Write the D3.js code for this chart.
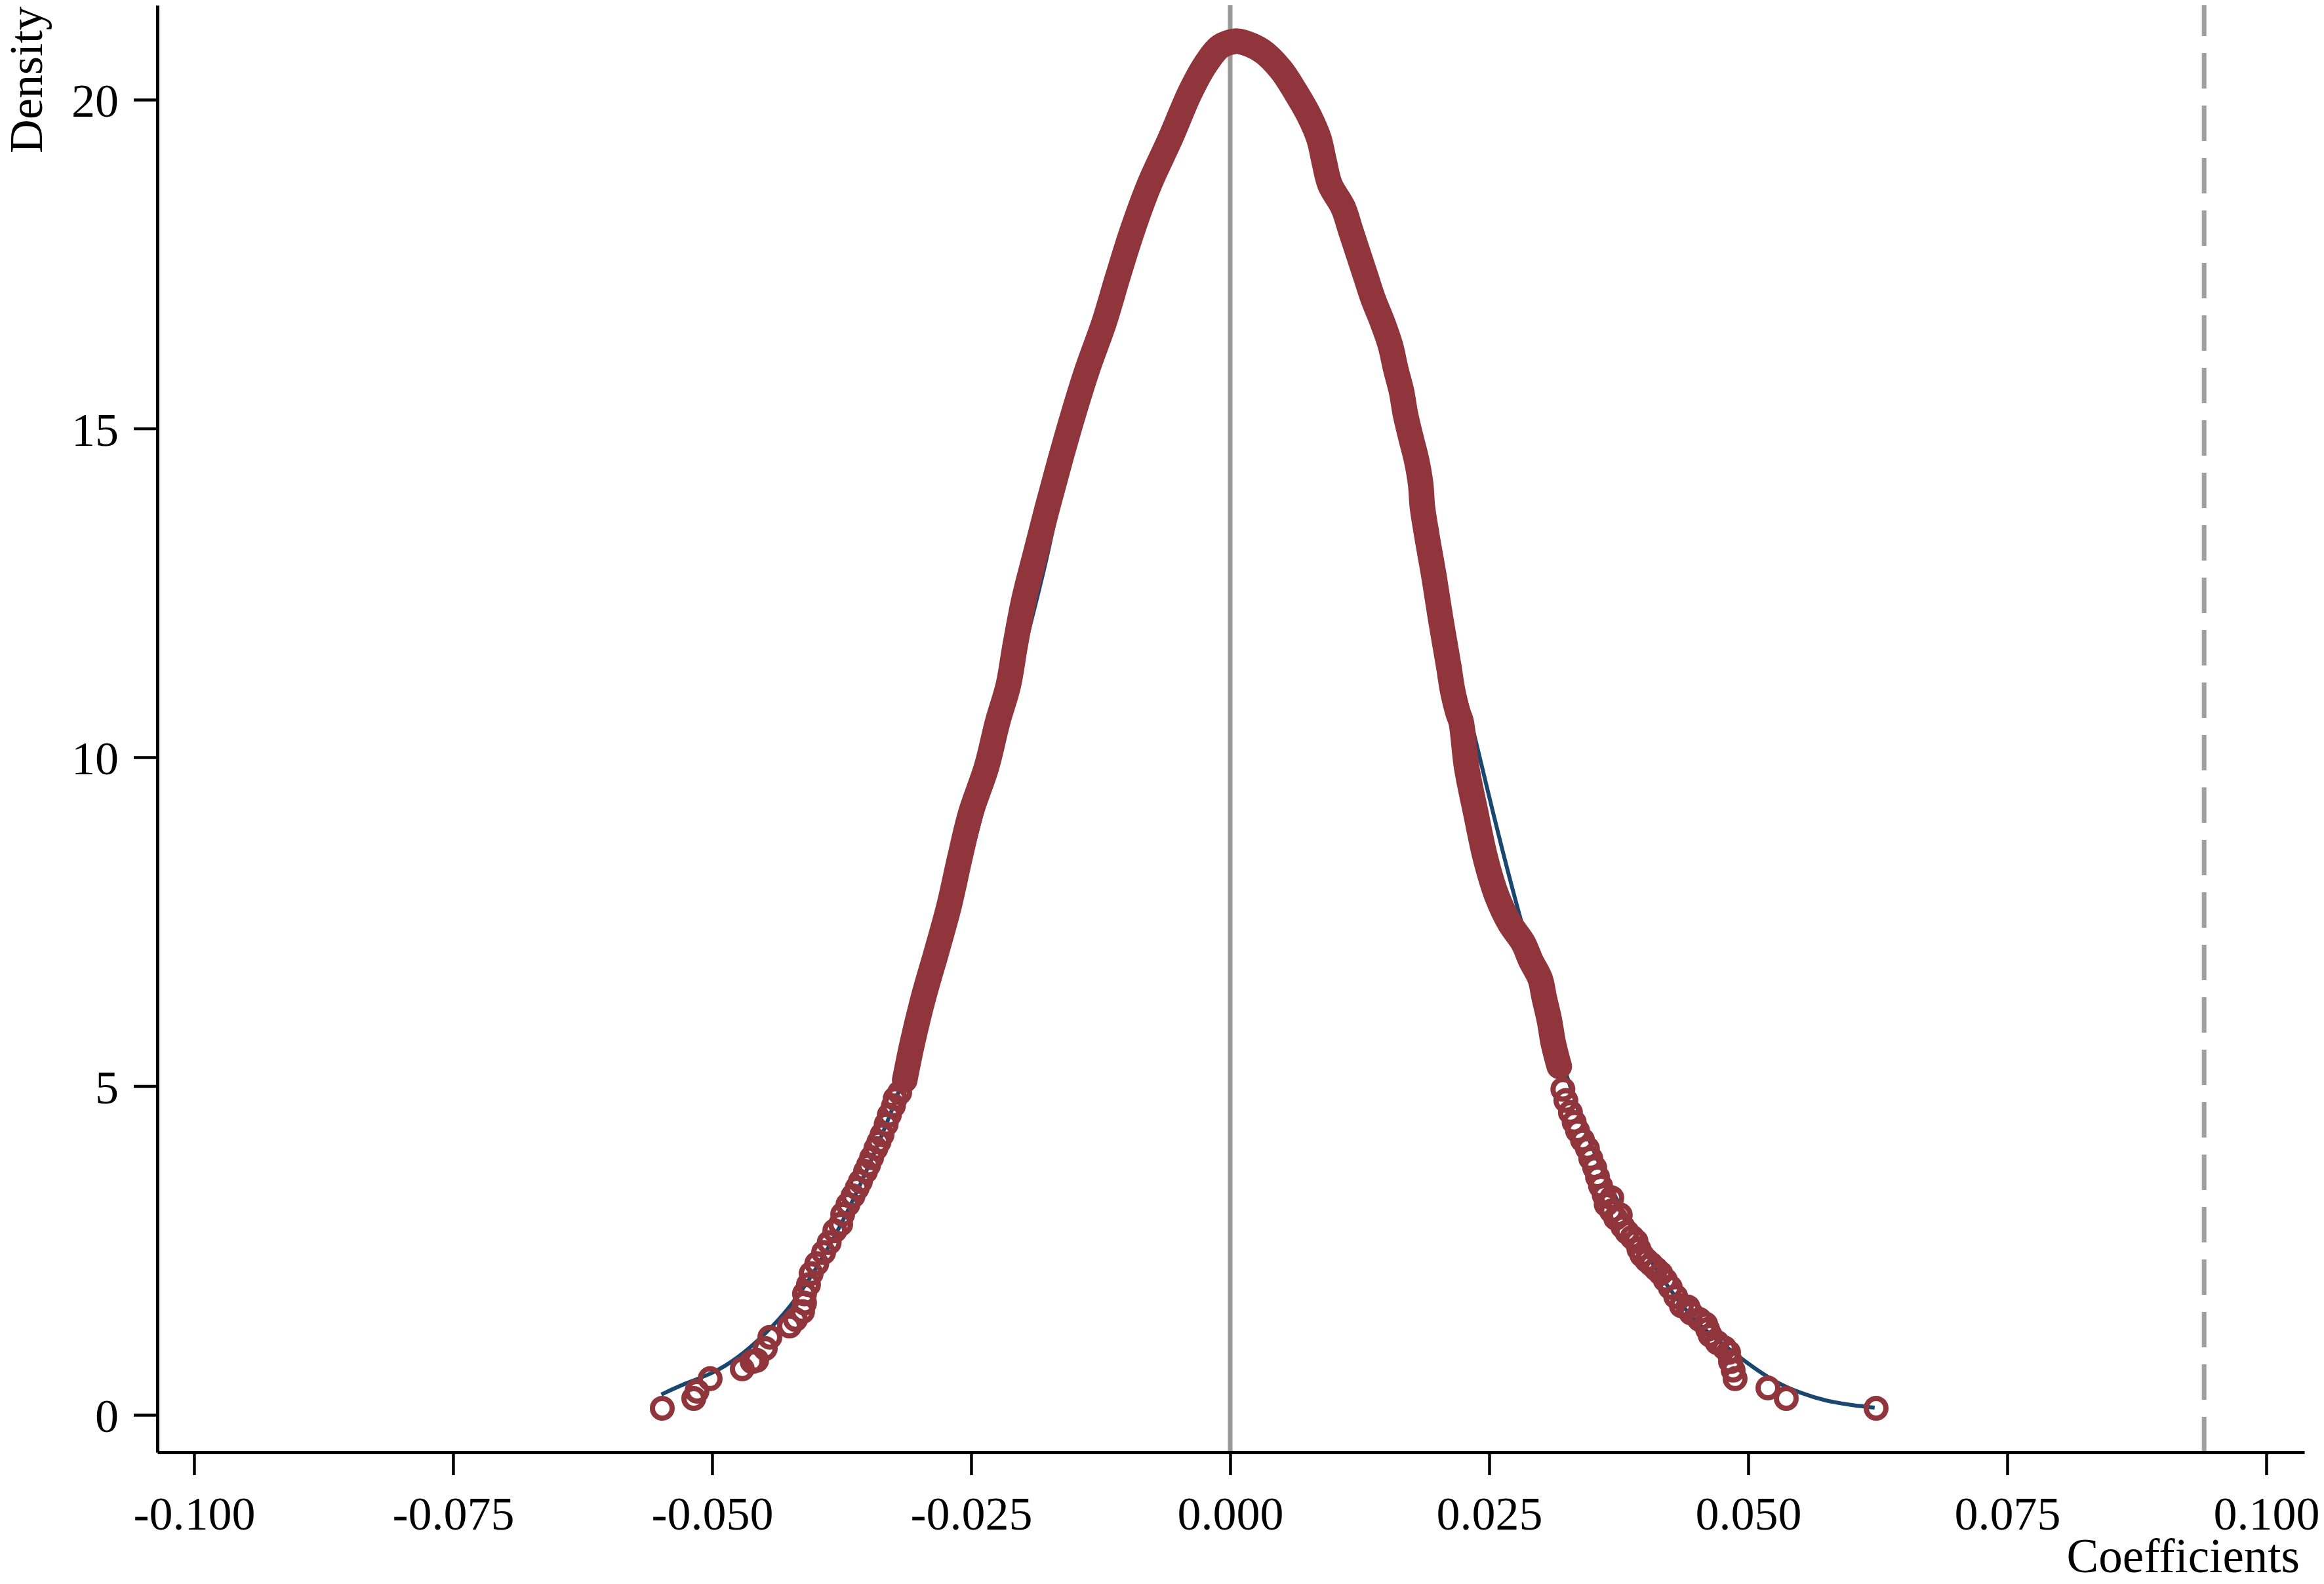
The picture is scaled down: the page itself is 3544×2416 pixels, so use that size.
<!DOCTYPE html>
<html><head><meta charset="utf-8">
<script src="https://cdn.jsdelivr.net/npm/d3@7"></script>
<style>html,body{margin:0;padding:0;background:#fff;} svg{display:block;}</style>
</head><body>
<svg id="chart" width="3544" height="2416"></svg>
<script>
// ---------- data ----------
const xTicks = [-0.100, -0.075, -0.050, -0.025, 0.000, 0.025, 0.050, 0.075, 0.100];
const xTickLabels = ["-0.100", "-0.075", "-0.050", "-0.025", "0.000", "0.025", "0.050", "0.075", "0.100"];
const yTicks = [0, 5, 10, 15, 20];
const yTickLabels = ["0", "5", "10", "15", "20"];
const xTitle = "Coefficients";
const yTitle = "Density";
const zeroLine = 0;          // solid reference line
const actualCoef = 0.094;    // dashed line (true estimate)

// fitted (smooth) density curve
const fitX = [-0.0549, -0.0525, -0.0500, -0.0475, -0.0450, -0.0425, -0.0400, -0.0375, -0.0350, -0.0325,
              -0.0300, -0.0275, -0.0250, -0.0225, -0.0200, -0.0175, -0.0150, -0.0125, -0.0100, -0.0075,
              -0.0050, -0.0025, 0.0000, 0.0025, 0.0050, 0.0075, 0.0100, 0.0125, 0.0150, 0.0175,
              0.0200, 0.0225, 0.0250, 0.0275, 0.0300, 0.0325, 0.0350, 0.0375, 0.0400, 0.0425,
              0.0450, 0.0475, 0.0500, 0.0525, 0.0550, 0.0575, 0.0600, 0.0622];
const fitY = [0.31, 0.48, 0.64, 0.88, 1.22, 1.65, 2.22, 2.92, 3.75, 4.70,
              5.85, 7.14, 8.53, 10.02, 11.58, 13.18, 15.00, 16.30, 17.60, 18.72,
              19.60, 20.35, 20.72, 20.68, 20.30, 19.62, 18.50, 17.42, 16.30, 14.70,
              12.55, 11.00, 9.40, 7.85, 6.45, 5.15, 4.05, 3.22, 2.50, 1.90,
              1.42, 1.08, 0.78, 0.52, 0.34, 0.22, 0.15, 0.11];

// placebo coefficients with their density (markers), left tail
const leftTail = [[-0.05481,0.10],[-0.05177,0.25],[-0.05146,0.36],[-0.05019,0.55],[-0.04709,0.70],
  [-0.04614,0.81],[-0.04570,0.83],[-0.04487,1.01],[-0.04443,1.18],[-0.04253,1.35],[-0.04196,1.45],
  [-0.04127,1.57],[-0.04108,1.70],[-0.04108,1.84],[-0.04070,1.98],[-0.04044,2.15],[-0.03990,2.30],
  [-0.03924,2.47],[-0.03870,2.62],[-0.03816,2.80],[-0.03759,2.90],[-0.03740,3.05],[-0.03689,3.20],
  [-0.03640,3.33],[-0.03600,3.45],[-0.03569,3.55],[-0.03520,3.70],[-0.03490,3.80],[-0.03461,3.91],
  [-0.03420,4.05],[-0.03390,4.15],[-0.03360,4.26],[-0.03320,4.42],[-0.03290,4.56],[-0.03250,4.70],
  [-0.03233,4.81],[-0.03190,4.90]];
// dense central part of markers
const core = [[-0.03141,5.09],[-0.03068,5.65],[-0.02960,6.35],[-0.02833,7.05],[-0.02713,7.74],
  [-0.02612,8.45],[-0.02504,9.15],[-0.02352,9.85],[-0.02244,10.54],[-0.02142,11.09],[-0.02073,11.72],
  [-0.01987,12.42],[-0.01876,13.11],[-0.01762,13.81],[-0.01642,14.51],[-0.01515,15.21],[-0.01376,15.91],
  [-0.01217,16.61],[-0.01084,17.31],[-0.00944,18.01],[-0.00780,18.71],[-0.00577,19.41],[-0.00387,20.11],
  [-0.00241,20.53],[-0.00095,20.81],[0.00050,20.89],[0.00108,20.88],[0.00308,20.74],[0.00488,20.46],
  [0.00634,20.11],[0.00761,19.76],[0.00856,19.41],[0.00907,19.06],[0.00963,18.71],[0.01090,18.36],
  [0.01163,18.01],[0.01236,17.66],[0.01309,17.31],[0.01382,16.96],[0.01471,16.61],[0.01547,16.26],
  [0.01597,15.91],[0.01654,15.56],[0.01692,15.21],[0.01743,14.87],[0.01800,14.51],[0.01838,14.16],
  [0.01855,13.81],[0.01889,13.46],[0.01927,13.11],[0.01965,12.77],[0.02000,12.42],[0.02035,12.07],
  [0.02073,11.72],[0.02111,11.37],[0.02146,11.02],[0.02200,10.67],[0.02229,10.54],[0.02282,9.85],
  [0.02371,9.15],[0.02466,8.45],[0.02574,7.89],[0.02700,7.47],[0.02827,7.18],[0.02901,6.91],
  [0.02992,6.63],[0.03030,6.35],[0.03081,6.00],[0.03119,5.65],[0.03176,5.30]];
// right tail
const rightTail = [[0.03211,4.95],[0.03240,4.78],[0.03284,4.60],[0.03320,4.45],[0.03353,4.32],
  [0.03400,4.18],[0.03448,4.05],[0.03480,3.90],[0.03518,3.76],[0.03545,3.62],[0.03575,3.48],
  [0.03610,3.34],[0.03629,3.20],[0.03683,3.30],[0.03680,3.10],[0.03721,2.99],[0.03765,3.04],
  [0.03790,2.86],[0.03829,2.78],[0.03880,2.70],[0.03917,2.64],[0.03945,2.52],[0.03974,2.43],
  [0.04020,2.35],[0.04063,2.29],[0.04110,2.22],[0.04156,2.15],[0.04200,2.05],[0.04247,1.94],
  [0.04300,1.80],[0.04355,1.66],[0.04418,1.64],[0.04447,1.55],[0.04530,1.45],[0.04589,1.38],
  [0.04608,1.30],[0.04633,1.21],[0.04700,1.10],[0.04770,1.02],[0.04810,0.95],[0.04829,0.81],
  [0.04854,0.68],[0.04873,0.55],[0.05190,0.41],[0.05367,0.25],[0.06234,0.10]];

// ---------- layout ----------
const plotL = 240, plotR = 3514, plotT = 8, plotB = 2215;
const red = "#90353b", navy = "#1a476f";
const font = "'Liberation Serif','Times New Roman',serif";

const svg = d3.select("#chart");
svg.append("rect").attr("width", 3544).attr("height", 2416).attr("fill", "#fff");

const x = d3.scaleLinear().domain([-0.10354, 0.10367]).range([plotL, plotR]);
const y = d3.scaleLinear().domain([-0.568, 21.436]).range([plotB, plotT]);

// reference lines
svg.append("line")
  .attr("x1", x(zeroLine)).attr("x2", x(zeroLine))
  .attr("y1", plotT).attr("y2", plotB)
  .attr("stroke", "#999999").attr("stroke-width", 7);
svg.append("line")
  .attr("x1", x(actualCoef)).attr("x2", x(actualCoef))
  .attr("y1", plotB).attr("y2", plotT)
  .attr("stroke", "#a0a0a0").attr("stroke-width", 7)
  .attr("stroke-dasharray", "54,26");

// fitted density line
const fitData = fitX.map((d, i) => [d, fitY[i]]);
svg.append("path")
  .datum(fitData)
  .attr("fill", "none").attr("stroke", navy).attr("stroke-width", 6)
  .attr("d", d3.line().x(d => x(d[0])).y(d => y(d[1])).curve(d3.curveNatural));

// dense central markers joined into a continuous band
svg.append("path")
  .datum(core)
  .attr("fill", "none").attr("stroke", red).attr("stroke-width", 39)
  .attr("stroke-linejoin", "round").attr("stroke-linecap", "round")
  .attr("d", d3.line().x(d => x(d[0])).y(d => y(d[1])).curve(d3.curveCatmullRom));

// hollow circle markers
const allPts = leftTail.concat(core, rightTail);
svg.append("g").selectAll("circle").data(allPts).join("circle")
  .attr("cx", d => x(d[0])).attr("cy", d => y(d[1])).attr("r", 15)
  .attr("fill", "none").attr("stroke", red).attr("stroke-width", 8);

// axes
const yAxis = d3.axisLeft(y).tickValues(yTicks).tickFormat((d, i) => yTickLabels[i])
  .tickSize(36).tickSizeOuter(0).tickPadding(23);
const gy = svg.append("g").attr("transform", `translate(${plotL},0)`).call(yAxis);
const xAxis = d3.axisBottom(x).tickValues(xTicks).tickFormat((d, i) => xTickLabels[i])
  .tickSize(35).tickSizeOuter(0).tickPadding(32);
const gx = svg.append("g").attr("transform", `translate(0,${plotB})`).call(xAxis);

[gx, gy].forEach(g => {
  g.select(".domain").attr("stroke", "#000").attr("stroke-width", 5);
  g.selectAll(".tick line").attr("stroke", "#000").attr("stroke-width", 4.5);
  g.selectAll(".tick text").attr("fill", "#000")
    .style("font-family", font).style("font-size", "72px");
});
gy.selectAll(".tick text").attr("dy", "0.36em");

// titles
svg.append("text")
  .attr("transform", `translate(64,10) rotate(-90)`)
  .attr("text-anchor", "end")
  .style("font-family", font).style("font-size", "72px").attr("fill", "#000")
  .text(yTitle);
svg.append("text")
  .attr("x", 3507).attr("y", 2398)
  .attr("text-anchor", "end")
  .style("font-family", font).style("font-size", "73px").attr("fill", "#000")
  .text(xTitle);
</script>
</body></html>
